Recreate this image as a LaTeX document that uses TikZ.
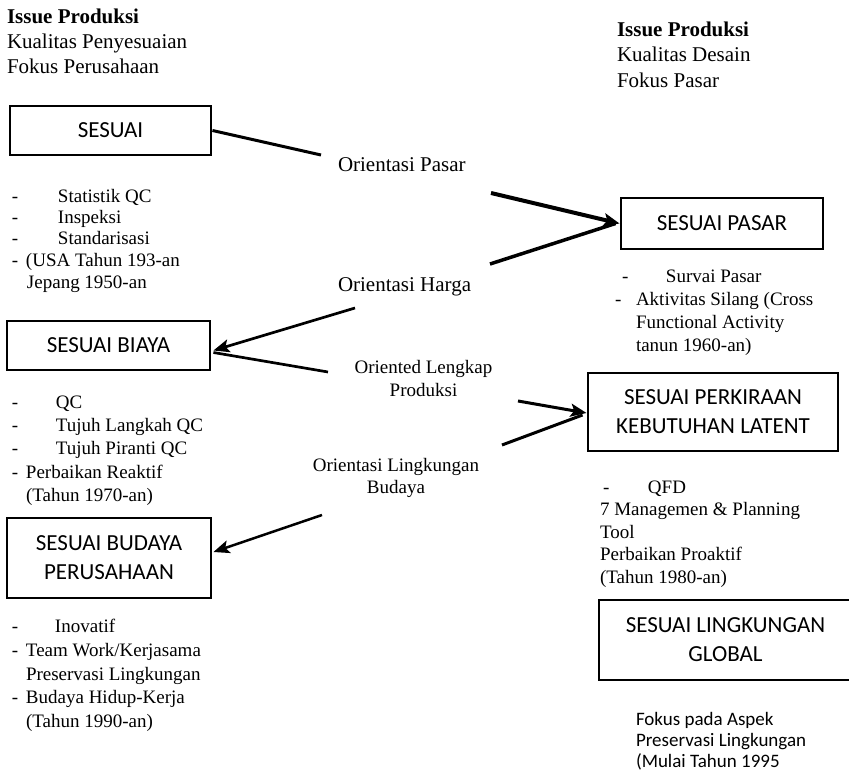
\documentclass[tikz,border=0pt]{standalone}
\usepackage{fontspec}
\setmainfont{Liberation Serif}
\newfontfamily\boxfont{Carlito}
\usetikzlibrary{arrows.meta,calc}

% a block of lines with its own size and line spacing, hanging from the first baseline
\newcommand{\blocktext}[4]{\parbox[t]{#1}{\fontsize{#2}{#3}\selectfont\raggedright #4}}
\newcommand{\centerblock}[4]{\parbox[t]{#1}{\fontsize{#2}{#3}\selectfont\centering #4}}
% list dash followed by a fixed gap
\newcommand{\dashw}[1]{\makebox[#1][l]{-}}

\begin{document}
\begin{tikzpicture}[x=1pt,y=-1pt,
  txt/.style={anchor=base west, inner sep=0pt, outer sep=0pt},
  label/.style={anchor=base, inner sep=0pt, outer sep=0pt},
  stagebox/.style={draw, line width=2.9pt, inner sep=0pt, align=center,
    font={\boxfont\fontsize{23}{29}\selectfont}},
  lnk/.style={line width=3pt},
  tip/.style={-{Stealth[length=16pt,width=13pt,inset=3.5pt]}}]

\fill[white] (0,0) rectangle (849,781);
\useasboundingbox (0,0) rectangle (849,781);

% headings
\node[txt] (hdrL) at (7,23.5) {\blocktext{300pt}{21}{25.2}{\textbf{Issue Produksi}\\Kualitas Penyesuaian\\Fokus Perusahaan}};
\node[txt] (hdrR) at (617,36.7) {\blocktext{230pt}{21}{25.2}{\textbf{Issue Produksi}\\Kualitas Desain\\Fokus Pasar}};

% stages
\node[stagebox, minimum width=201pt, minimum height=49pt] (sesuai) at (110.5,130.5) {SESUAI};
\node[stagebox, minimum width=202pt, minimum height=51pt] (pasar) at (722,223.5) {SESUAI PASAR};
\node[stagebox, minimum width=203pt, minimum height=49pt] (biaya) at (108.5,345.5) {SESUAI BIAYA};
\node[stagebox, minimum width=250pt, minimum height=78pt] (latent) at (713,412) {SESUAI PERKIRAAN\\KEBUTUHAN LATENT};
\node[stagebox, minimum width=204pt, minimum height=80pt] (budaya) at (109,558) {SESUAI BUDAYA\\PERUSAHAAN};
\node[stagebox, minimum width=253pt, minimum height=80pt] (global) at (725.5,640) {SESUAI LINGKUNGAN\\GLOBAL};

% notes under the stages
\node[txt] (notesSesuai) at (12,202) {\blocktext{300pt}{19}{21.5}{%
  \dashw{46pt}Statistik QC\\
  \dashw{46pt}Inspeksi\\
  \dashw{46pt}Standarisasi\\
  \dashw{14pt}(USA Tahun 193-an\\
  \hspace*{15pt}Jepang 1950-an}};
\node[txt] (notesBiaya) at (12,408.3) {\blocktext{300pt}{19}{23.3}{%
  \dashw{44pt}QC\\
  \dashw{44pt}Tujuh Langkah QC\\
  \dashw{44pt}Tujuh Piranti QC\\
  \dashw{14pt}Perbaikan Reaktif\\
  \hspace*{14pt}(Tahun 1970-an)}};
\node[txt] (notesBudaya) at (12,632.5) {\blocktext{300pt}{19}{23.75}{%
  \dashw{43pt}Inovatif\\
  \dashw{14pt}Team Work/Kerjasama\\
  \hspace*{14pt}Preservasi Lingkungan\\
  \dashw{14pt}Budaya Hidup-Kerja\\
  \hspace*{14pt}(Tahun 1990-an)}};
\node[txt] (notesPasar) at (615,282) {\blocktext{240pt}{19}{23.3}{%
  \hspace*{7pt}\dashw{44pt}Survai Pasar\\
  \dashw{21pt}Aktivitas Silang (Cross\\
  \hspace*{21pt}Functional Activity\\
  \hspace*{21pt}tanun 1960-an)}};
\node[txt] (notesLatent) at (600,493) {\blocktext{250pt}{19}{22.5}{%
  \hspace*{3pt}\dashw{45pt}QFD\\
  7 Managemen \& Planning\\
  Tool\\
  Perbaikan Proaktif\\
  (Tahun 1980-an)}};
\node[txt] (notesGlobal) at (636,725) {\boxfont\blocktext{220pt}{19}{21}{%
  Fokus pada Aspek\\
  Preservasi Lingkungan\\
  (Mulai Tahun 1995}};

% orientation labels
\node[txt] (oPasar) at (338,171.7) {\fontsize{21}{25}\selectfont Orientasi Pasar};
\node[txt] (oHarga) at (338,291.7) {\fontsize{21}{25}\selectfont Orientasi Harga};
\node[label] (oLengkap) at (423.5,373.3) {\centerblock{200pt}{19}{22.7}{Oriented Lengkap\\Produksi}};
\node[label] (oBudaya) at (396,471.7) {\centerblock{200pt}{19}{21.5}{Orientasi Lingkungan\\Budaya}};

% free ends of the connectors
\coordinate (pasarEnd) at (321,155);
\coordinate (pasarStart) at (491,193);
\coordinate (hargaUp) at (490,264);
\coordinate (hargaStart) at (355,308);
\coordinate (lengkapEnd) at (328,372);
\coordinate (lengkapStart) at (518,401);
\coordinate (budayaUp) at (502,445);
\coordinate (budayaStart) at (322,515);

% connectors
\draw[lnk] (sesuai.east) -- (pasarEnd);
\draw[lnk, line width=4pt, tip] (pasarStart) -- (pasar.west);
\draw[lnk, line width=3.5pt] (hargaUp) -- ($(pasar.west)+(-4,0)$);
\draw[lnk, line width=2.7pt, tip] (hargaStart) -- ($(biaya.east)+(2,5)$);
\draw[lnk, line width=2.7pt] ($(biaya.east)+(2,7)$) -- (lengkapEnd);
\draw[lnk, tip] (lengkapStart) -- ($(latent.west)+(0,1)$);
\draw[lnk] (budayaUp) -- ($(latent.west)+(-4,3)$);
\draw[lnk, line width=2.5pt, tip] (budayaStart) -- ($(budaya.east)+(1,-6)$);
\end{tikzpicture}
\end{document}
